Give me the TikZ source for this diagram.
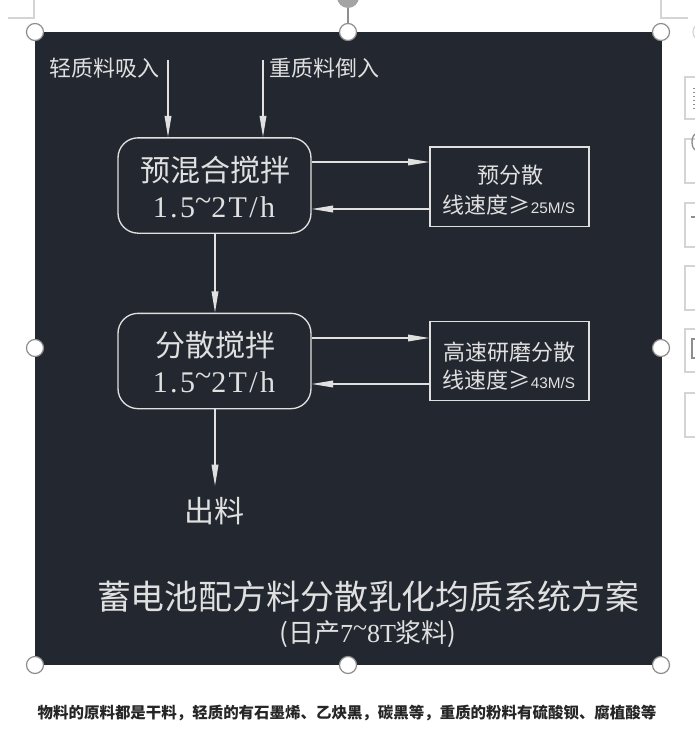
\documentclass[tikz,border=0pt]{standalone}
\usepackage{fontspec}
\newfontfamily\cjk{Noto Sans CJK SC}
\newfontfamily\lat{Liberation Serif}
\newfontfamily\latw[LetterSpace=8]{Liberation Serif}
\newfontfamily\lsans{Liberation Sans}
\usetikzlibrary{arrows.meta}
\definecolor{bg}{HTML}{232830}
\definecolor{fg}{HTML}{E0E0E0}
\definecolor{hgrey}{HTML}{8E8E8E}
\definecolor{uigrey}{HTML}{D4D4D4}
\newcommand{\hitilde}{\raisebox{0.22em}{\textasciitilde}}
\begin{document}
\begin{tikzpicture}[x=0.75pt,y=-0.75pt,
  arr/.style={draw=fg, line width=1pt, -{Triangle[length=16pt,width=5pt,fill=fg]}},
  rbox/.style={draw=fg, line width=1pt, rounded corners=15pt, minimum width=144.75pt, minimum height=71.5pt, inner sep=0pt},
  sbox/.style={draw=fg, line width=1pt, minimum width=119.25pt, minimum height=59.5pt, inner sep=0pt},
  bigtxt/.style={text=fg, font=\cjk\fontsize{22.5pt}{24pt}\selectfont, inner sep=0pt},
  midtxt/.style={text=fg, font=\cjk\fontsize{16.5pt}{18pt}\selectfont, inner sep=0pt},
  handle/.style={draw=hgrey, fill=white, line width=0.9pt},
  uibox/.style={draw=uigrey, fill=white, line width=0.8pt},
  cornermark/.style={draw=uigrey, line width=0.9pt}
]
\useasboundingbox (0,0) rectangle (695,750);
\clip (0,0) rectangle (695,750);
\fill[white] (0,0) rectangle (695,750);

% corner marks and UI strip
\draw[cornermark] (8,18) -- (34,18) -- (34,0);
\draw[cornermark] (688,18) -- (661,18) -- (661,0);
\foreach \a/\b in {77/119,139/183,203/247,266/310,329/372,393/437}
  \draw[uibox] (685,\a) rectangle (705,\b);
\draw[uigrey, line width=0.9pt] (700,40) arc (90:270:7 and 8);
\draw[hgrey, line width=1pt, dotted] (694,88) -- (694,110);
\draw[hgrey, line width=1pt] (696,150) arc (90:270:4 and 8);
\draw[hgrey, line width=1pt] (691,217) -- (696,217);
\draw[hgrey, line width=1pt] (692,339) rectangle (700,358);

% background panel
\fill[bg] (35,32) rectangle (662,665);

% top labels
\node[midtxt] (l1) at (104,68) {轻质料吸入};
\node[midtxt] (l2) at (324,68) {重质料倒入};

% boxes
\node[rbox] (b1) at (214.5,185.5) {};
\node[bigtxt] (b1a) at (215,170) {预混合搅拌};
\node[bigtxt] (b1b) at (214,207) {\latw 1.5\hitilde 2T/h};
\node[sbox] (b2) at (509.5,186.5) {};
\node[midtxt] (b2a) at (510,175) {预分散};
\node[midtxt] (b2b) at (509,205) {线速度≥{\lsans\fontsize{11.5pt}{12pt}\selectfont 25M/S}};

\node[rbox] (b3) at (214.5,361) {};
\node[bigtxt] (b3a) at (215,345) {分散搅拌};
\node[bigtxt] (b3b) at (214,382) {\latw 1.5\hitilde 2T/h};
\node[sbox] (b4) at (509.5,361) {};
\node[midtxt] (b4a) at (509,352) {高速研磨分散};
\node[midtxt] (b4b) at (509,380) {线速度≥{\lsans\fontsize{11.5pt}{12pt}\selectfont 43M/S}};

\node[bigtxt, anchor=north, inner sep=0pt] (out) at (214,497) {出料};
\coordinate (oend) at (215,486);

% coordinates for arrow rows
\coordinate (s1) at (168,60);
\coordinate (s2) at (263,60);
\coordinate (r1) at (0,162);
\coordinate (r2) at (0,209);
\coordinate (r3) at (0,338);
\coordinate (r4) at (0,384);
\coordinate (c1) at (215,0);

% arrows
\draw[arr] (s1) -- (s1 |- b1.north);
\draw[arr] (s2) -- (s2 |- b1.north);
\draw[arr] (b1.east |- r1) -- (b2.west |- r1);
\draw[arr] (b2.west |- r2) -- (b1.east |- r2);
\draw[arr] (c1 |- b1.south) -- (c1 |- b3.north);
\draw[arr] (b3.east |- r3) -- (b4.west |- r3);
\draw[arr] (b4.west |- r4) -- (b3.east |- r4);
\draw[arr] (c1 |- b3.south) -- (oend);

% title
\node[text=fg, font=\cjk\fontsize{25.4pt}{27pt}\selectfont, inner sep=0pt] (title) at (368,597) {蓄电池配方料分散乳化均质系统方案};
\node[text=fg, font=\cjk\fontsize{19.5pt}{21pt}\selectfont, inner sep=0pt] (sub) at (368,634) {(日产{\lat 7\hitilde 8T}浆料)};

% selection handles
\draw[hgrey, line width=1pt] (348,8) -- (348,24);
\fill[hgrey!80] (348,-3) circle (11);
\foreach \p in {(35,32),(348,32),(661,32),(35,348),(661,348),(35,665),(348,665),(661,665)}
  \draw[handle] \p circle (8.5);

% caption
\node[text=black!85, font=\cjk\bfseries\fontsize{11.6pt}{13pt}\selectfont, inner sep=0pt] (cap) at (347,713) {物料的原料都是干料，轻质的有石墨烯、乙炔黑，碳黑等，重质的粉料有硫酸钡、腐植酸等};
\end{tikzpicture}
\end{document}
